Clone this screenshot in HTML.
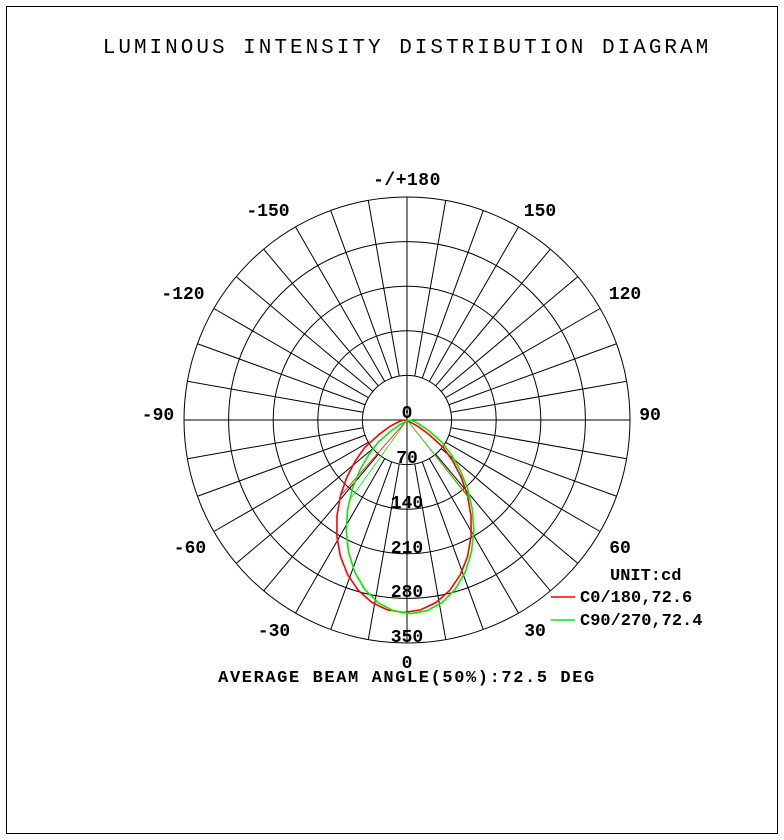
<!DOCTYPE html>
<html><head><meta charset="utf-8"><style>
body{margin:0;background:#fff;}
svg{display:block;}
text{font-family:"Liberation Mono",monospace;font-weight:bold;fill:#000;}
</style></head><body>
<svg width="784" height="840" viewBox="0 0 784 840" xmlns="http://www.w3.org/2000/svg">
<rect x="6.5" y="6.5" width="771" height="827" fill="#fff" stroke="#000" stroke-width="1"/>
<text x="407" y="53" font-size="21" text-anchor="middle" letter-spacing="3" style="font-weight:normal">LUMINOUS INTENSITY DISTRIBUTION DIAGRAM</text>
<g id="grid" stroke="#000" stroke-width="1" fill="none"></g>
<g id="curves" fill="none"></g>
<g font-size="18" text-anchor="middle">
<text x="407" y="185" letter-spacing="0.5">-/+180</text>
<text x="540" y="216">150</text>
<text x="268" y="216">-150</text>
<text x="625" y="299">120</text>
<text x="183" y="299">-120</text>
<text x="650" y="420">90</text>
<text x="158" y="420">-90</text>
<text x="620" y="553">60</text>
<text x="190" y="553">-60</text>
<text x="535" y="636">30</text>
<text x="274" y="636">-30</text>
<text x="407" y="668">0</text>
<text x="407" y="418">0</text>
<text x="407" y="463">70</text>
<text x="407" y="508">140</text>
<text x="407" y="553">210</text>
<text x="407" y="597">280</text>
<text x="407" y="642">350</text>
<text x="407" y="682" font-size="17" letter-spacing="1.6">AVERAGE BEAM ANGLE(50%):72.5 DEG</text>
</g>
<g font-size="17">
<text x="610" y="580">UNIT:cd</text>
<text x="580" y="602">C0/180,72.6</text>
<text x="580" y="625">C90/270,72.4</text>
</g>
<line x1="551" y1="597" x2="575" y2="597" stroke="#f00" stroke-width="1.5"/>
<line x1="551" y1="620" x2="575" y2="620" stroke="#0e0" stroke-width="1.5"/>
<script>
var cx=407,cy=420,R=223,ns="http://www.w3.org/2000/svg";
var g=document.getElementById('grid');
function el(p,t,a){var e=document.createElementNS(ns,t);for(var k in a)e.setAttribute(k,a[k]);p.appendChild(e);return e;}
for(var i=1;i<=5;i++)el(g,'circle',{cx:cx,cy:cy,r:R*i/5});
for(var a=0;a<360;a+=10){var t=a*Math.PI/180,r0=(a%90==0)?0:R/5;
el(g,'line',{x1:cx+r0*Math.sin(t),y1:cy+r0*Math.cos(t),x2:cx+R*Math.sin(t),y2:cy+R*Math.cos(t)});}
var c=document.getElementById('curves'),s=R/350;
function pt(Imax,n,d,sh){var t=d*Math.PI/180;var I=Imax*Math.pow(Math.max(Math.cos(t),0),n);
if(Math.abs(d)>55)I*=Math.max(0,(90-Math.abs(d))/35);var r=I*s;return [cx+sh+r*Math.sin(t),cy+r*Math.cos(t)];}
function curve(Imax,n,col,w,sh,td){var pts=[];for(var d=-90;d<=90;d+=5){var p=pt(Imax,n,d,sh);pts.push(p[0].toFixed(1)+','+p[1].toFixed(1));}
el(c,'polyline',{points:pts.join(' '),stroke:col,'stroke-width':w});
[-1,1].forEach(function(sg){var p=pt(Imax,n,sg*td,sh);el(c,'line',{x1:cx,y1:cy,x2:p[0],y2:p[1],stroke:col,'stroke-width':0.8});});}
curve(302,2.5,'#f00',1.6,-3,40);
curve(304,2.9,'#0e0',1.6,3,37);
</script>
</svg>
</body></html>
